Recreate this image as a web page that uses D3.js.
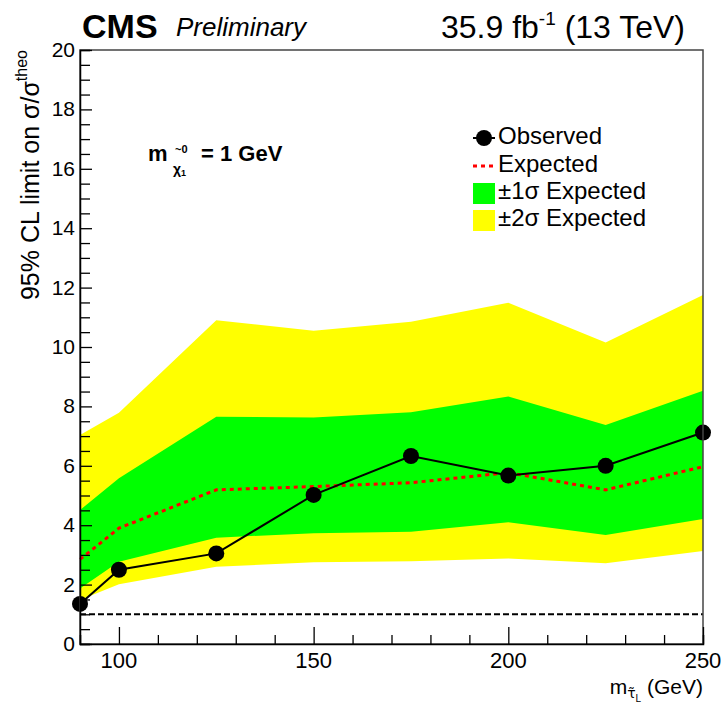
<!DOCTYPE html>
<html>
<head>
<meta charset="utf-8">
<script src="https://cdn.jsdelivr.net/npm/d3@7"></script>
<style>
  body { margin: 0; background: #fff; }
  svg text { font-family: "Liberation Sans", Arial, Helvetica, sans-serif; }
</style>
</head>
<body>
<svg id="chart" width="722" height="704"></svg>
<script>
// stau mass points (GeV)
let masses = [90, 100, 125, 150, 175, 200, 225, 250];
// 95% CL limits on sigma/sigma_theo
let observed = [1.35, 2.5, 3.05, 5.02, 6.33, 5.67, 6.0, 7.12];
let expected = [2.85, 3.9, 5.19, 5.3, 5.43, 5.77, 5.19, 5.97];
let oneSigmaLow = [1.87, 2.77, 3.58, 3.73, 3.78, 4.1, 3.67, 4.21];
let oneSigmaHigh = [4.51, 5.58, 7.65, 7.63, 7.8, 8.33, 7.37, 8.53];
let twoSigmaLow = [1.48, 2.01, 2.6, 2.75, 2.79, 2.88, 2.72, 3.13];
let twoSigmaHigh = [7.04, 7.79, 10.9, 10.55, 10.85, 11.49, 10.15, 11.75];
let yTickLabels = [0, 2, 4, 6, 8, 10, 12, 14, 16, 18, 20];
let xTickLabels = [100, 150, 200, 250];
let legendEntries = ['Observed', 'Expected', '\u00b11\u03c3 Expected', '\u00b12\u03c3 Expected'];

let svg = d3.select('#chart');
let margin = {top: 50, right: 19, bottom: 60, left: 80},
    width = 722 - margin.left - margin.right,
    height = 704 - margin.top - margin.bottom;

let x = d3.scaleLinear().domain([90, 250]).range([margin.left, margin.left + width]);
let y = d3.scaleLinear().domain([0, 20]).range([margin.top + height, margin.top]);

let rows = masses.map((m, i) => ({
    m: m, obs: observed[i], exp: expected[i],
    lo1: oneSigmaLow[i], hi1: oneSigmaHigh[i],
    lo2: twoSigmaLow[i], hi2: twoSigmaHigh[i]
}));

// bands
let band = (lo, hi) => d3.area()
    .x(d => x(d.m))
    .y0(d => y(d[lo]))
    .y1(d => y(d[hi]));

svg.append('path').datum(rows).attr('d', band('lo2', 'hi2')).attr('fill', '#ffff00');
svg.append('path').datum(rows).attr('d', band('lo1', 'hi1')).attr('fill', '#00ff00');

// expected
svg.append('path').datum(rows)
    .attr('d', d3.line().x(d => x(d.m)).y(d => y(d.exp)))
    .attr('fill', 'none')
    .attr('stroke', '#ff0000')
    .attr('stroke-width', 3)
    .attr('stroke-dasharray', '4,4');

// sigma/sigma_theo = 1
svg.append('line')
    .attr('x1', x(90)).attr('x2', x(250))
    .attr('y1', y(1)).attr('y2', y(1))
    .attr('stroke', '#000')
    .attr('stroke-width', 2)
    .attr('stroke-dasharray', '6,3');

// observed
svg.append('path').datum(rows)
    .attr('d', d3.line().x(d => x(d.m)).y(d => y(d.obs)))
    .attr('fill', 'none')
    .attr('stroke', '#000')
    .attr('stroke-width', 2);

svg.selectAll('circle.obs')
    .data(rows)
    .enter().append('circle')
    .attr('class', 'obs')
    .attr('cx', d => x(d.m))
    .attr('cy', d => y(d.obs))
    .attr('r', 8)
    .attr('fill', '#000');

// frame
svg.append('rect')
    .attr('x', margin.left).attr('y', margin.top)
    .attr('width', width).attr('height', height)
    .attr('fill', 'none')
    .attr('stroke', '#444')
    .attr('stroke-width', 1.5);

// y axis, ticks inside
let yAxis = svg.append('g')
    .attr('transform', `translate(${margin.left},0)`)
    .call(d3.axisRight(y).tickValues(d3.range(0, 20.01, 0.5)).tickSize(10).tickFormat(''));
yAxis.select('.domain').attr('stroke', '#000').attr('stroke-width', 1.5);
yAxis.selectAll('.tick line').attr('stroke', '#000').attr('stroke-width', 1.3);
yAxis.selectAll('.tick line').filter(d => d % 2 === 0).attr('x2', 12);

svg.selectAll('text.ytick')
    .data(yTickLabels)
    .enter().append('text')
    .attr('class', 'ytick')
    .attr('x', margin.left - 5)
    .attr('y', d => y(d))
    .attr('dy', '0.33em')
    .attr('text-anchor', 'end')
    .attr('font-size', 21)
    .text(d => d);

// x axis, ticks inside
let xAxis = svg.append('g')
    .attr('transform', `translate(0,${margin.top + height})`)
    .call(d3.axisTop(x).tickValues(d3.range(100, 251, 10)).tickSize(9).tickFormat(''));
xAxis.select('.domain').attr('stroke', '#000').attr('stroke-width', 1.5);
xAxis.selectAll('.tick line').attr('stroke', '#000').attr('stroke-width', 1.3);
xAxis.selectAll('.tick line').filter(d => d % 50 === 0).attr('y2', -17);

svg.selectAll('text.xtick')
    .data(xTickLabels)
    .enter().append('text')
    .attr('class', 'xtick')
    .attr('x', d => x(d))
    .attr('y', margin.top + height + 24)
    .attr('text-anchor', 'middle')
    .attr('font-size', 22)
    .text(d => d);

// x axis title
let xt = svg.append('text')
    .attr('x', 703)
    .attr('y', 694)
    .attr('text-anchor', 'end')
    .attr('fill', '#000')
    .attr('font-size', 21);
xt.append('tspan').text('m');
xt.append('tspan').attr('font-size', 14).attr('dy', 4)
    .style('font-family', '"DejaVu Sans", sans-serif').text('\u03c4\u0303');
xt.append('tspan').attr('font-size', 10).attr('dy', 4).text('L');
xt.append('tspan').attr('dy', -8).text(' (GeV)');

// y axis title
let yt = svg.append('text')
    .attr('transform', 'translate(39,50) rotate(-90)')
    .attr('text-anchor', 'end')
    .attr('font-size', 25);
yt.append('tspan').text('95% CL limit on \u03c3/\u03c3');
yt.append('tspan').attr('font-size', 16).attr('dy', -12).text('theo');

// header
svg.append('text').attr('x', 82).attr('y', 38)
    .attr('font-size', 34).attr('font-weight', 'bold').text('CMS');
svg.append('text').attr('x', 176).attr('y', 36)
    .attr('font-size', 26).attr('font-style', 'italic').text('Preliminary');
let lumi = svg.append('text').attr('x', 685).attr('y', 38)
    .attr('text-anchor', 'end').attr('font-size', 32);
lumi.append('tspan').text('35.9 fb');
lumi.append('tspan').attr('font-size', 19).attr('dy', -13).text('-1');
lumi.append('tspan').attr('dy', 13).text(' (13 TeV)');

// neutralino mass note
let note = svg.append('g').attr('font-weight', 'bold');
note.append('text').attr('x', 148).attr('y', 161).attr('font-size', 22).text('m');
note.append('text').attr('x', 175).attr('y', 153).attr('font-size', 11).text('~0');
note.append('text').attr('x', 173).attr('y', 174).attr('font-size', 14).text('\u03c7')
    .append('tspan').attr('font-size', 9).attr('dy', 2).text('1');
note.append('text').attr('x', 201).attr('y', 161).attr('font-size', 22).text('= 1 GeV');

// legend
let legend = svg.append('g').attr('transform', 'translate(473,0)');
let legendY = [144, 172, 199, 226];
legend.append('line').attr('x1', 0).attr('x2', 22).attr('y1', legendY[0] - 6).attr('y2', legendY[0] - 6)
    .attr('stroke', '#000').attr('stroke-width', 2);
legend.append('circle').attr('cx', 11).attr('cy', legendY[0] - 6).attr('r', 8).attr('fill', '#000');
legend.append('line').attr('x1', 0).attr('x2', 22).attr('y1', legendY[1] - 6).attr('y2', legendY[1] - 6)
    .attr('stroke', '#ff0000').attr('stroke-width', 3).attr('stroke-dasharray', '4,4');
legend.append('rect').attr('x', 0).attr('y', legendY[2] - 16).attr('width', 22).attr('height', 21).attr('fill', '#00ff00');
legend.append('rect').attr('x', 0).attr('y', legendY[3] - 16).attr('width', 22).attr('height', 21).attr('fill', '#ffff00');
legend.selectAll('text.leg')
    .data(legendEntries)
    .enter().append('text')
    .attr('class', 'leg')
    .attr('x', 25)
    .attr('y', (d, i) => legendY[i])
    .attr('font-size', 24)
    .text(d => d);
</script>
</body>
</html>
